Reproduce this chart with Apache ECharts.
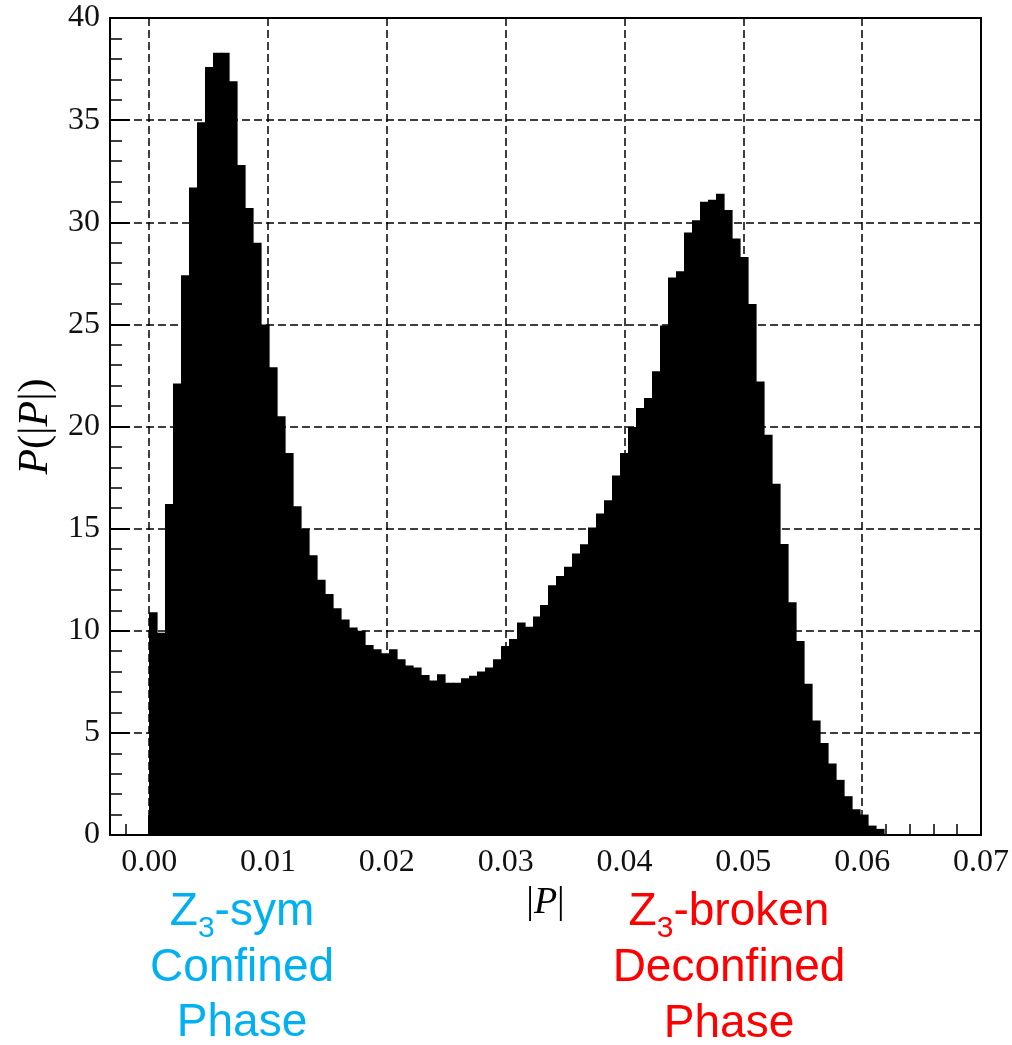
<!DOCTYPE html>
<html>
<head>
<meta charset="utf-8">
<script src="https://cdn.jsdelivr.net/npm/echarts@6/dist/echarts.min.js"></script>
<style>
  html, body { margin: 0; padding: 0; background: #fff; }
  #chart { width: 1012px; height: 1045px; }
</style>
</head>
<body>
<div id="chart"></div>
<script>
// ---- data ----
const binStart = 0.0;
const binWidth = 0.000672;
const density = [
  10.9, 9.9, 16.2, 22.1, 27.4, 31.7, 34.9, 37.6, 38.3, 38.3,
  36.9, 32.8, 30.7, 29.0, 25.0, 22.9, 20.5, 18.7, 16.1, 15.0,
  13.7, 12.5, 11.8, 11.1, 10.55, 10.16, 10.0, 9.3, 9.1, 8.9,
  9.1, 8.6, 8.3, 8.2, 7.83, 7.56, 7.87, 7.46, 7.46, 7.67,
  7.8, 8.0, 8.2, 8.6, 9.25, 9.6, 10.4, 10.2, 10.7, 11.26,
  12.23, 12.68, 13.13, 13.78, 14.24, 15.05, 15.74, 16.39, 17.6, 18.7,
  19.98, 20.9, 21.4, 22.7, 24.95, 27.3, 27.6, 29.5, 30.1, 31.0,
  31.1, 31.4, 30.6, 29.2, 28.3, 26.0, 22.2, 19.6, 17.2, 14.25,
  11.4, 9.5, 7.4, 5.6, 4.5, 3.5, 2.7, 1.9, 1.26, 1.0,
  0.46, 0.3
];
const xMajorTicks = [0.00, 0.01, 0.02, 0.03, 0.04, 0.05, 0.06, 0.07];
const xMinorTicks = [-0.002, 0.002, 0.004, 0.006, 0.008, 0.012, 0.014, 0.016, 0.018,
  0.022, 0.024, 0.026, 0.028, 0.032, 0.034, 0.036, 0.038, 0.042, 0.044, 0.046, 0.048,
  0.052, 0.054, 0.056, 0.058, 0.062, 0.064, 0.066, 0.068];
const xRange = [-0.0033, 0.07];
const yRange = [0, 40];
const yStep = 5;
const xName = '|{i|P}|';
const yName = '{i|P}(|{i|P}|)';
const blueLines = ['{n|Z}{s|3}{n|-sym}', '{n|Confined}', '{n|Phase}'];
const redLines = ['{n|Z}{s|3}{n|-broken}', '{n|Deconfined}', '{n|Phase}'];

// ---- build ----
const bins = density.map((v, i) => [binStart + i * binWidth, binStart + (i + 1) * binWidth, v]);

const serif = 'Liberation Serif, Times New Roman, serif';
const sans = 'Liberation Sans, Arial, sans-serif';
const dashed = { show: true, lineStyle: { color: '#000', width: 1.5, type: [8, 4] } };

function phaseText(lines, color, cx, ys) {
  return lines.map((t, k) => ({
    type: 'text',
    x: cx, y: ys[k],
    style: {
      text: t,
      fill: color,
      align: 'center',
      verticalAlign: 'middle',
      rich: {
        n: { fontFamily: sans, fontSize: 46, lineHeight: 64, fill: color, verticalAlign: 'middle' },
        s: { fontFamily: sans, fontSize: 30, fill: color, verticalAlign: 'bottom' }
      }
    }
  }));
}

const chart = echarts.init(document.getElementById('chart'), null, { renderer: 'canvas' });
chart.setOption({
  animation: false,
  backgroundColor: '#fff',
  grid: { left: 110, right: 28, top: 18, bottom: 210, show: true, borderColor: '#000', borderWidth: 2, backgroundColor: 'transparent' },
  xAxis: [{
    type: 'value',
    min: xRange[0], max: xRange[1],
    position: 'bottom',
    name: xName,
    nameLocation: 'middle',
    nameGap: 42,
    nameTextStyle: { fontFamily: serif, fontSize: 38, color: '#000',
      rich: { i: { fontFamily: serif, fontStyle: 'italic', fontSize: 38, color: '#000' } } },
    axisLine: { show: true, onZero: false, lineStyle: { color: '#000', width: 2 } },
    axisTick: { show: true, inside: true, length: 20, customValues: xMajorTicks, lineStyle: { color: '#000', width: 2 } },
    axisLabel: { show: true, customValues: xMajorTicks, margin: 12, fontFamily: serif, fontSize: 32, color: '#111',
      formatter: v => v.toFixed(2) },
    splitLine: dashed
  }, {
    type: 'value',
    min: xRange[0], max: xRange[1],
    position: 'bottom',
    axisLine: { show: false },
    axisTick: { show: true, inside: true, length: 11, customValues: xMinorTicks, lineStyle: { color: '#000', width: 1.5 } },
    axisLabel: { show: false },
    splitLine: { show: false }
  }],
  yAxis: [{
    type: 'value',
    min: yRange[0], max: yRange[1], interval: yStep,
    name: yName,
    nameLocation: 'middle',
    nameRotate: 90,
    nameGap: 52,
    nameTextStyle: { fontFamily: serif, fontSize: 42, color: '#000',
      rich: { i: { fontFamily: serif, fontStyle: 'italic', fontSize: 42, color: '#000' } } },
    axisLine: { show: true, onZero: false, lineStyle: { color: '#000', width: 2 } },
    axisTick: { show: true, inside: true, length: 20, lineStyle: { color: '#000', width: 2 } },
    minorTick: { show: true, splitNumber: 5, length: 12, lineStyle: { color: '#000', width: 1.5 } },
    axisLabel: { show: true, margin: 10, fontFamily: serif, fontSize: 32, color: '#111' },
    splitLine: dashed
  }],
  series: [{
    type: 'custom',
    xAxisIndex: 0,
    yAxisIndex: 0,
    data: bins,
    encode: { x: [0, 1], y: 2 },
    clip: true,
    renderItem: function (params, api) {
      const p0 = api.coord([api.value(0), api.value(2)]);
      const p1 = api.coord([api.value(1), 0]);
      const xa = Math.round(p0[0]);
      const xb = Math.round(p1[0]);
      return {
        type: 'rect',
        shape: { x: xa, y: p0[1], width: xb - xa + 0.6, height: p1[1] - p0[1] },
        style: { fill: '#000' }
      };
    }
  }],
  graphic: [].concat(
    phaseText(blueLines, '#00B0F0', 242, [912, 968, 1023]),
    phaseText(redLines, '#FF0000', 729, [912, 968, 1024])
  )
});
</script>
</body>
</html>
